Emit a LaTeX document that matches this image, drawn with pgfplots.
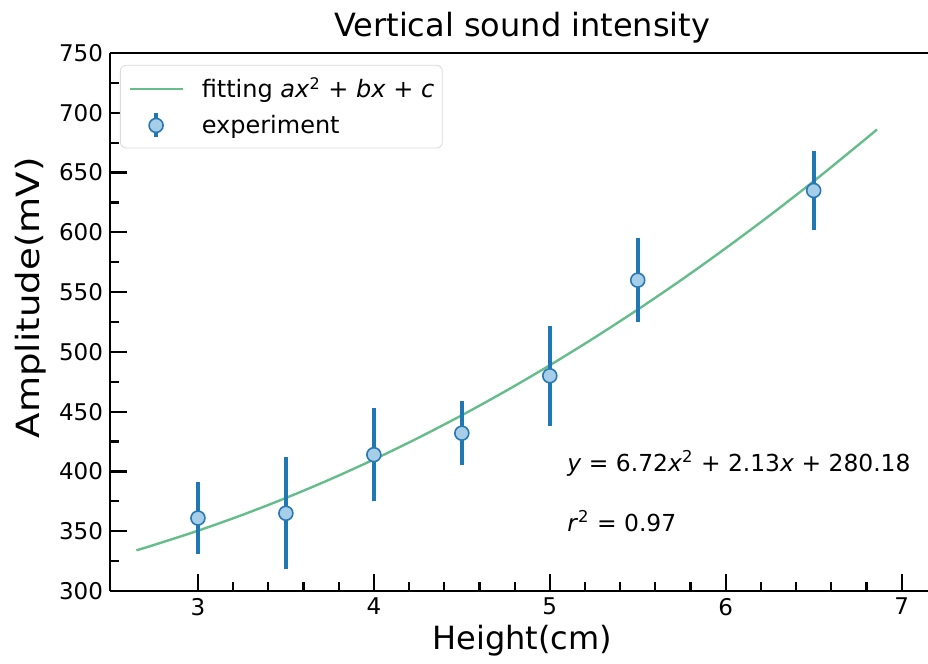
\documentclass[border=0pt]{standalone}
\usepackage{fontspec}
\setmainfont{DejaVu Sans}
\usepackage{graphicx}
\usepackage{pgfplots}
\pgfplotsset{compat=1.18}
\definecolor{fitgreen}{RGB}{102,189,140}
\definecolor{errblue}{RGB}{31,119,180}
\definecolor{ptfill}{RGB}{166,206,232}
\definecolor{ptedge}{RGB}{40,120,180}
\pgfplotsset{
 fitlegend/.style={legend image code/.code={\draw[##1] (0pt,0pt) -- (26.5pt,0pt);}},
 explegend/.style={legend image code/.code={\draw[errblue,line width=2pt] (13.25pt,-6pt) -- (13.25pt,6pt); \draw[##1] plot coordinates {(13.25pt,0pt)};}},
}
\begin{document}
\begin{tikzpicture}
\begin{axis}[name=ax, scale only axis, width=409pt, height=269pt,
 xmin=2.5, xmax=7.15, ymin=300, ymax=750,
 axis x line*=bottom, axis y line*=left,
 axis line style={line width=1.2pt, black},
 xtick={3,4,5,6,7}, ytick={300,350,...,750},
 minor x tick num=4, minor y tick num=1,
 tick align=inside,
 major tick length=8.3pt, minor tick length=4.5pt,
 every tick/.style={black, line width=1.1pt},
 /pgf/number format/assume math mode=true,
 ticklabel style={font=\fontsize{11.5}{13}\selectfont},
 title={Vertical sound intensity},
 title style={at={(axis description cs:0.504,1)}, anchor=base, yshift=2pt, font=\fontsize{16}{19}\selectfont},
 xlabel={Height(cm)},
 xlabel style={at={(axis description cs:0.504,0)}, anchor=base, yshift=-29.5pt, font=\fontsize{16}{19}\selectfont},
 ylabel={\scalebox{1.16}[1]{Amplitude(mV)}},
 ylabel style={at={(axis description cs:-0.0856,0.545)}, anchor=base, font=\fontsize{16}{19}\selectfont},
 legend style={at={(axis description cs:0.0122,0.978)}, anchor=north west, draw=black!15, rounded corners=3pt, fill=white, font=\fontsize{12}{14}\selectfont, row sep=3pt, column sep=9pt, inner xsep=4pt, inner ysep=4pt, nodes={inner xsep=0pt}},
 legend cell align=left,
]
\addplot[fitgreen, line width=1.2pt, smooth, fitlegend] table {
x y
2.65 334
2.75 338.5
3.00 350.4
3.25 363.5
3.50 377.8
3.75 393.3
4.00 410.0
4.25 427.9
4.50 447.0
4.75 467.3
5.00 488.8
5.25 511.5
5.50 535.4
5.75 560.4
6.00 586.7
6.25 614.1
6.50 642.7
6.75 672.6
6.86 686.0
};
\addlegendentry{fitting \textit{ax}\textsuperscript{2} + \textit{bx} + \textit{c}}
\addplot[only marks, mark=*, mark size=3.5pt, mark options={fill=ptfill, draw=ptedge, line width=0.8pt}, explegend,
 error bars/.cd, y dir=both, y explicit, error mark=none,
 error bar style={line width=2pt, errblue}]
 table[y error=e] {
x y e
3.0 361 30
3.5 365 47
4.0 414 39
4.5 432 26.5
5.0 480 42
5.5 560 35
6.5 635 33
};
\addlegendentry{experiment}
\node[anchor=base west, font=\fontsize{11.7}{14}\selectfont] at (axis cs:5.06,400) {\textit{y} = 6.72\textit{x}\textsuperscript{2} + 2.13\textit{x} + 280.18};
\node[anchor=base west, font=\fontsize{11.7}{14}\selectfont] at (axis cs:5.06,350) {\textit{r}\textsuperscript{2} = 0.97};
\end{axis}
\draw[line width=1.2pt] (ax.north west) -- (ax.north east);
\pgfresetboundingbox
\path ([xshift=-55pt,yshift=-36.5pt]ax.south west) rectangle ([yshift=26.5pt]ax.north east);
\end{tikzpicture}
\end{document}
